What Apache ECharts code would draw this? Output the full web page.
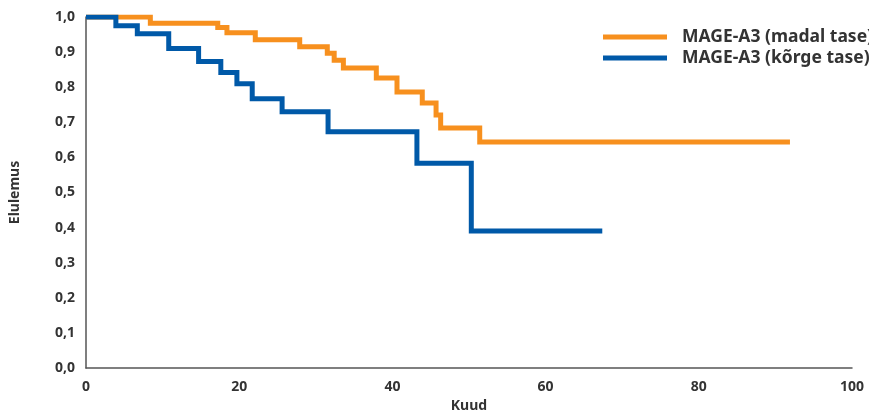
<!DOCTYPE html>
<html>
<head>
<meta charset="utf-8">
<script src="https://cdn.jsdelivr.net/npm/echarts@6/dist/echarts.min.js"></script>
<style>html,body{margin:0;padding:0;background:#fff}#c{width:869px;height:414px}</style>
</head>
<body>
<div id="c"></div>
<script>
const seriesNames = ['MAGE-A3 (madal tase)', 'MAGE-A3 (kõrge tase)'];
const lowTimes = [0, 8.4, 17.2, 18.4, 22.1, 27.9, 31.5, 32.4, 33.6, 37.9, 40.6, 43.9, 45.7, 46.3, 51.4, 91.9];
const lowSurv  = [1.0, 0.982, 0.970, 0.955, 0.935, 0.915, 0.897, 0.877, 0.855, 0.826, 0.786, 0.755, 0.721, 0.684, 0.644, 0.644];
const highTimes = [0, 3.9, 6.7, 10.8, 14.7, 17.6, 19.7, 21.7, 25.6, 31.6, 43.2, 50.3, 67.4];
const highSurv  = [1.0, 0.975, 0.952, 0.910, 0.873, 0.842, 0.810, 0.767, 0.730, 0.673, 0.583, 0.390, 0.390];
const xTicks = [0, 20, 40, 60, 80, 100];

const font = 'Noto Sans';
const zip = (a, b) => a.map((t, i) => [t, b[i]]);
const chart = echarts.init(document.getElementById('c'));
chart.setOption({
  animation: false,
  textStyle: { fontFamily: font },
  grid: { left: 86, right: 17, top: 17, bottom: 46, containLabel: false, outerBoundsMode: 'none' },
  legend: {
    orient: 'vertical', left: 603, top: 28, itemGap: 3, padding: 0,
    icon: 'rect', itemWidth: 64, itemHeight: 5,
    textStyle: { fontFamily: font, fontWeight: 'bold', fontSize: 17.5, color: '#333', padding: [0, 0, 0, 10] },
    data: seriesNames
  },
  xAxis: {
    type: 'value', min: 0, max: 100, interval: 20,
    name: 'Kuud', nameLocation: 'middle', nameGap: 31,
    nameTextStyle: { fontFamily: font, fontWeight: 'bold', fontSize: 14, color: '#333' },
    axisLine: { lineStyle: { color: '#555', width: 1.5 } },
    axisTick: { show: false }, splitLine: { show: false },
    axisLabel: { fontFamily: font, fontWeight: 'bold', fontSize: 14, color: '#333', margin: 12,
      formatter: v => xTicks.includes(v) ? String(v) : '' }
  },
  yAxis: {
    type: 'value', min: 0, max: 1, interval: 0.1,
    name: 'Elulemus', nameLocation: 'middle', nameGap: 64,
    nameTextStyle: { fontFamily: font, fontWeight: 'bold', fontSize: 14, color: '#333' },
    axisLine: { show: true, lineStyle: { color: '#555', width: 1.5 } },
    axisTick: { show: false }, splitLine: { show: false },
    axisLabel: { fontFamily: font, fontWeight: 'bold', fontSize: 14, color: '#333', margin: 11,
      formatter: v => v.toFixed(1).replace('.', ',') }
  },
  series: [
    { name: seriesNames[0], type: 'line', step: 'end', showSymbol: false, symbol: 'none',
      data: zip(lowTimes, lowSurv), lineStyle: { color: '#F7901E', width: 5, join: 'miter' }, itemStyle: { color: '#F7901E' }, z: 2 },
    { name: seriesNames[1], type: 'line', step: 'end', showSymbol: false, symbol: 'none',
      data: zip(highTimes, highSurv), lineStyle: { color: '#0059A8', width: 5, join: 'miter' }, itemStyle: { color: '#0059A8' }, z: 3 }
  ]
});
</script>
</body>
</html>
